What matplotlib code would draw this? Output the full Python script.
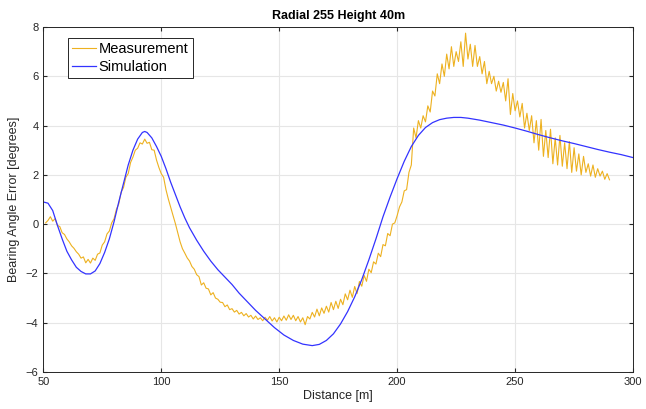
import numpy as np
import matplotlib.pyplot as plt

plt.rcParams['font.family'] = ['Liberation Sans', 'DejaVu Sans']

# measurement, 1 m steps from 51 to 290
meas_x = np.arange(51, 291)
meas_y = [
    0.05, 0.15, 0.3, 0.12, 0.22, -0.05, -0.1, -0.35, -0.42, -0.6,
    -0.72, -0.88, -0.98, -1.12, -1.22, -1.38, -1.33, -1.57, -1.43, -1.58,
    -1.38, -1.47, -1.22, -1.17, -0.85, -0.72, -0.4, -0.28, 0.05, 0.22,
    0.6, 0.82, 1.3, 1.48, 1.9, 2.05, 2.5, 2.72, 3.0, 3.08,
    3.3, 3.25, 3.45, 3.28, 3.32, 3.02, 3.0, 2.6, 2.3, 2.05,
    1.9, 1.4, 1.02, 0.68, 0.35, 0.02, -0.35, -0.72, -1.0, -1.18,
    -1.37, -1.5, -1.72, -1.83, -2.05, -2.13, -2.47, -2.38, -2.6, -2.63,
    -2.87, -2.78, -3.0, -3.05, -3.17, -3.18, -3.35, -3.28, -3.47, -3.43,
    -3.57, -3.5, -3.65, -3.58, -3.72, -3.63, -3.77, -3.7, -3.85, -3.73,
    -3.87, -3.8, -3.92, -3.78, -3.9, -3.75, -3.93, -3.8, -3.97, -3.78,
    -3.92, -3.73, -3.9, -3.68, -3.87, -3.7, -3.92, -3.75, -3.97, -3.8,
    -4.08, -3.75, -3.85, -3.58, -3.77, -3.45, -3.72, -3.4, -3.62, -3.33,
    -3.57, -3.18, -3.47, -3.13, -3.42, -3.05, -3.27, -2.83, -3.07, -2.68,
    -2.97, -2.53, -2.82, -2.33, -2.52, -2.08, -2.32, -1.83, -1.97, -1.53,
    -1.62, -1.18, -1.32, -0.83, -0.88, -0.38, -0.47, 0.0, 0.05, 0.35,
    0.7, 0.9, 1.35, 1.4, 2.1, 2.4, 3.9, 3.5, 4.2, 3.9,
    4.4, 4.15, 4.8, 4.55, 5.4, 5.2, 6.1, 5.7, 6.5, 6.0,
    6.9, 6.3, 7.2, 6.4, 7.0, 6.6, 7.4, 6.4, 7.75, 6.7,
    7.3, 6.4, 7.25, 6.4, 6.8, 6.1, 6.6, 5.7, 6.2, 5.7,
    6.0, 5.4, 5.8, 5.35, 5.75, 5.0, 5.9, 4.45, 5.3, 4.6,
    5.0, 4.35, 4.9, 3.9, 4.5, 3.8, 4.4, 3.3, 4.2, 3.0,
    4.25, 2.75, 3.8, 2.7, 3.85, 2.45, 3.5, 2.4, 3.6, 2.35,
    3.3, 2.25, 3.35, 2.1, 3.1, 2.15, 2.85, 2.0, 2.75, 2.1,
    2.45, 1.95, 2.4, 1.9, 2.25, 1.95, 2.15, 1.82, 2.05, 1.8,
]

sim_x = [50, 52, 54, 56, 58, 60, 62, 64, 66, 68, 70, 72, 74, 76, 78, 80, 82, 84, 86, 88,
         90, 92, 93, 94, 96, 98, 100, 102, 104, 106, 108, 110, 112, 115, 118, 121, 124, 127,
         130, 133, 136, 140, 144, 148, 152, 156, 160, 164, 167, 170, 173, 176, 179, 182, 185,
         188, 191, 194, 197, 200, 203, 206, 209, 212, 215, 218, 221, 224, 227, 230, 235, 240,
         245, 250, 255, 260, 265, 270, 275, 280, 285, 290, 295, 300]
sim_y = [0.9, 0.85, 0.55, -0.05, -0.6, -1.1, -1.45, -1.75, -1.92, -2.02, -2.02, -1.9, -1.6,
         -1.15, -0.6, 0.1, 0.9, 1.65, 2.4, 3.0, 3.45, 3.72, 3.76, 3.72, 3.5, 3.15, 2.75, 2.25,
         1.7, 1.2, 0.7, 0.25, -0.15, -0.65, -1.1, -1.5, -1.85, -2.15, -2.45, -2.8, -3.1, -3.5,
         -3.85, -4.2, -4.5, -4.72, -4.87, -4.93, -4.88, -4.72, -4.45, -4.05, -3.55, -2.95,
         -2.25, -1.45, -0.6, 0.3, 1.1, 1.85, 2.55, 3.15, 3.6, 3.92, 4.12, 4.24, 4.3, 4.33,
         4.33, 4.3, 4.22, 4.12, 4.02, 3.9, 3.77, 3.63, 3.5, 3.38, 3.27, 3.15, 3.03, 2.92,
         2.82, 2.7]

fig = plt.figure(figsize=(6.46, 4.09), dpi=100)
ax = fig.add_axes([0.067, 0.0905, 0.913, 0.8435])

ax.plot(meas_x, meas_y, color='#EDB120', lw=0.8, label='Measurement')
ax.plot(sim_x, sim_y, color='#3333FF', lw=0.9, label='Simulation')

ax.set_xlim(50, 300)
ax.set_ylim(-6, 8)
ax.set_xticks(np.arange(50, 301, 50))
ax.set_yticks(np.arange(-6, 9, 2))
ax.grid(True, color='#E6E6E6', lw=0.8)
ax.set_axisbelow(True)
ax.tick_params(direction='in', length=3, top=True, right=True, labelsize=8,
               colors='#262626')
for s in ax.spines.values():
    s.set_color('#262626')
    s.set_linewidth(0.7)

ax.set_title('Radial 255 Height 40m', fontsize=9, fontweight='bold', pad=6)
ax.set_xlabel('Distance [m]', fontsize=9, color='#262626', labelpad=2)
ax.set_ylabel('Bearing Angle Error [degrees]', fontsize=9, color='#262626', labelpad=4)

leg = ax.legend(loc='upper left', bbox_to_anchor=(0.0416, 0.968), borderaxespad=0,
                fontsize=10.5, fancybox=False, framealpha=1, edgecolor='#262626',
                handlelength=1.65, handletextpad=0.15, borderpad=0.3, labelspacing=0.25)
leg.get_frame().set_linewidth(0.7)

fig.savefig('out.png', dpi=100)
